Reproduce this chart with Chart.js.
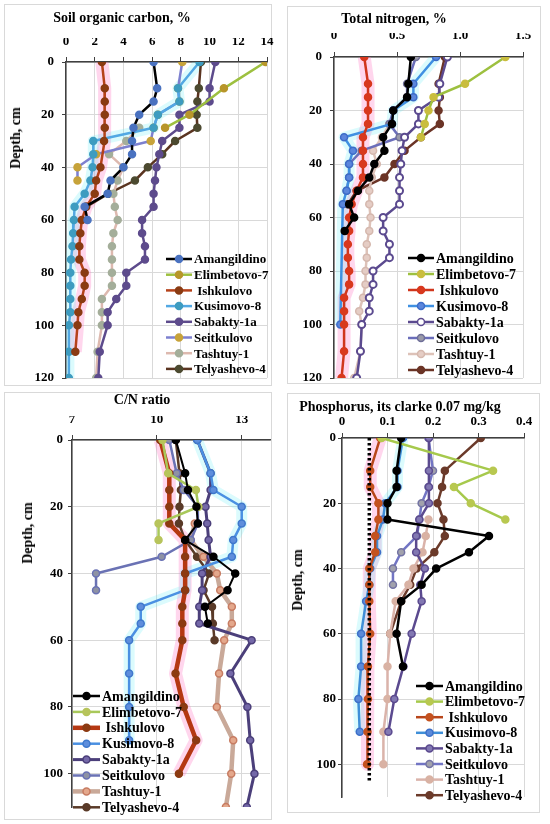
<!DOCTYPE html>
<html>
<head>
<meta charset="utf-8">
<script src="https://cdn.jsdelivr.net/npm/chart.js@4.4.0/dist/chart.umd.min.js"></script>
<style>
  html, body { margin: 0; padding: 0; background: #fff; }
  body { width: 550px; height: 824px; position: relative; overflow: hidden; font-family: "Liberation Serif", serif; }
  .box { position: absolute; border: 1px solid #d9d9d9; box-sizing: border-box; }
  canvas { position: absolute; }
  .ttl { position: absolute; font-weight: bold; font-size: 14px; white-space: nowrap; transform: translate(-50%, -50%); }
  .ytl { position: absolute; font-weight: bold; font-size: 14px; white-space: nowrap; transform: translate(-50%, -50%) rotate(-90deg); }
</style>
</head>
<body>
<script>
// Sites, in legend order
const sites = ['Amangildino', 'Elimbetovo-7', ' Ishkulovo', 'Kusimovo-8', 'Sabakty-1a', 'Seitkulovo', 'Tashtuy-1', 'Telyashevo-4'];

// Soil organic carbon, % (depths in cm, one list per site)
const socDepths = [
  [0, 10, 15, 20, 25, 30, 35, 40, 45, 50, 55, 60],
  [0, 10, 20, 25],
  [0, 10, 15, 20, 25, 30, 40, 45, 50, 55, 60, 65, 70, 75, 80, 85, 90, 95, 100, 110],
  [0, 10, 15, 20, 25, 30, 35, 40, 45, 50, 55, 60, 65, 70, 75, 80, 85, 90, 95, 100, 110, 120],
  [0, 10, 15, 20, 25, 30, 35, 40, 45, 50, 55, 60, 65, 70, 75, 80, 85, 90, 95, 100, 110, 120],
  [0, 10, 15, 20, 25, 30, 35, 40, 45],
  [25, 30, 35, 40, 45, 50, 55, 60, 65, 70, 75, 80, 85, 90, 95, 100, 110, 120],
  [0, 10, 15, 20, 25, 30, 35, 40, 45, 50, 55]
];
const socValues = [
  [6.1, 6.35, 6.1, 5.1, 4.7, 4.6, 4.6, 4.0, 3.1, 2.9, 1.3, 1.5],
  [13.9, 11.0, 8.6, 6.9],
  [2.5, 2.7, 2.7, 2.7, 2.7, 2.65, 2.4, 2.1, 2.0, 1.4, 1.1, 1.0, 0.93, 0.93, 1.3, 1.3, 1.1, 0.86, 0.8, 0.65],
  [9.3, 7.8, 7.9, 6.4, 6.1, 1.9, 1.9, 1.85, 1.7, 1.3, 0.6, 0.55, 0.5, 0.45, 0.35, 0.3, 0.3, 0.3, 0.3, 0.2, 0.2, 0.2],
  [10.4, 10.0, 10.0, 7.9, 7.9, 6.7, 6.5, 6.3, 6.2, 6.1, 6.1, 5.3, 5.3, 5.5, 5.5, 4.2, 4.2, 3.5, 2.9, 2.9, 2.35, 2.25],
  [8.1, 7.8, 7.9, 6.4, 6.1, 5.9, 2.1, 0.8, 0.8],
  [5.1, 4.2, 3.0, 4.0, 3.6, 3.3, 3.4, 3.6, 3.3, 3.2, 3.2, 3.2, 3.2, 2.5, 2.5, 2.5, 2.2, 2.1],
  [9.4, 9.25, 9.15, 9.1, 9.15, 7.6, 6.7, 5.7, 4.8, 2.95, 1.4]
];
const socTicks = [0, 2, 4, 6, 8, 10, 12, 14];
const socDepthTicks = [0, 20, 40, 60, 80, 100, 120];

// Total nitrogen, %
const nDepths = [
  [0, 10, 15, 20, 25, 30, 35, 40, 45, 50, 55, 60, 65],
  [0, 10, 15, 20, 25, 30],
  [0, 10, 15, 20, 25, 30, 35, 40, 45, 50, 55, 60, 65, 70, 75, 80, 85, 90, 95, 100, 110, 120],
  [0, 10, 15, 20, 25, 30, 35, 40, 45, 50, 55, 100],
  [0, 10, 15, 20, 25, 30, 35, 40, 45, 50, 55, 60, 65, 70, 75, 80, 85, 90, 95, 100, 110, 120],
  [0, 10, 15, 20, 25, 30, 35, 40, 45, 50],
  [25, 30, 35, 40, 45, 50, 55, 60, 65, 70, 75, 80, 85, 90, 95, 100, 110, 120],
  [0, 10, 15, 20, 25, 30, 35, 40, 45, 50, 55]
];
const nValues = [
  [0.61, 0.59, 0.58, 0.47, 0.46, 0.39, 0.4, 0.32, 0.28, 0.19, 0.12, 0.16, 0.085],
  [1.36, 1.04, 0.79, 0.75, 0.72, 0.69],
  [0.24, 0.27, 0.27, 0.27, 0.27, 0.23, 0.23, 0.23, 0.23, 0.18, 0.14, 0.12, 0.12, 0.11, 0.11, 0.12, 0.12, 0.08, 0.08, 0.08, 0.08, 0.06],
  [0.81, 0.63, 0.63, 0.47, 0.46, 0.08, 0.15, 0.12, 0.12, 0.1, 0.07, 0.05],
  [0.9, 0.84, 0.83, 0.67, 0.67, 0.56, 0.54, 0.53, 0.52, 0.52, 0.52, 0.39, 0.39, 0.44, 0.44, 0.31, 0.31, 0.28, 0.28, 0.22, 0.21, 0.18],
  [0.65, 0.58, 0.58, 0.47, 0.44, 0.52, 0.22, 0.12, 0.12, 0.1],
  [0.44, 0.38, 0.31, 0.34, 0.3, 0.28, 0.28, 0.29, 0.28, 0.26, 0.26, 0.25, 0.25, 0.23, 0.2, 0.22, 0.21, 0.16],
  [0.88, 0.83, 0.84, 0.83, 0.84, 0.69, 0.56, 0.48, 0.4, 0.18, 0.11]
];
const nTicks = [0, 0.5, 1, 1.5];
const nDepthTicks = [0, 20, 40, 60, 80, 100, 120];

// C/N ratio
const cnDepths = [
  [0, 10, 15, 20, 25, 30, 35, 40, 45, 50, 55],
  [0, 10, 15, 20, 25, 30],
  [0, 10, 15, 20, 25, 30, 35, 40, 45, 50, 55, 60, 70, 80, 90, 100],
  [0, 10, 15, 20, 25, 30, 35, 40, 45, 50, 55, 60, 70, 80, 90],
  [0, 10, 15, 20, 25, 30, 35, 40, 45, 50, 55, 60, 70, 80, 90, 100, 110],
  [0, 10, 15, 20, 25, 30, 35, 40, 45],
  [25, 30, 35, 40, 45, 50, 55, 60, 70, 80, 90, 100, 110],
  [0, 10, 15, 20, 25, 30, 35, 40, 45, 50, 55, 60]
];
const cnValues = [
  [10.67, 11.0, 11.1, 11.4, 11.45, 11.0, 12.0, 12.77, 12.5, 11.7, 11.8],
  [10.2, 10.4, 11.38, 11.47, 10.06, 10.06],
  [10.12, 10.44, 10.44, 10.44, 10.44, 11.0, 11.0, 11.0, 11.0, 10.9, 10.9, 10.9, 10.66, 10.95, 11.39, 10.78],
  [11.43, 11.9, 12.0, 13.0, 13.0, 12.7, 12.65, 11.0, 11.0, 9.43, 9.43, 9.02, 9.02, 9.02, 9.02],
  [11.43, 11.9, 11.9, 11.72, 11.78, 11.83, 11.9, 11.6, 11.6, 11.5, 11.5, 13.35, 12.6, 13.2, 13.3, 13.45, 13.18],
  [10.44, 10.7, 10.95, 11.45, 11.45, 11.2, 10.17, 7.85, 7.85],
  [11.34, 11.2, 11.65, 12.12, 12.24, 12.65, 12.65, 12.38, 12.2, 12.12, 12.7, 12.63, 12.44],
  [10.67, 10.8, 10.85, 10.8, 10.78, 11.0, 11.42, 11.85, 11.65, 11.95, 11.98, 12.04]
];
const cnTicks = [7, 10, 13];
const cnDepthTicks = [0, 20, 40, 60, 80, 100];

// Phosphorus, mg/kg
const pDepths = [
  [0, 10, 15, 20, 25, 30, 35, 40, 45, 50, 60, 70],
  [0, 10, 15, 20, 25],
  [0, 10, 15, 20, 25, 30, 35, 40, 45, 50, 60, 70, 80, 90, 100],
  [0, 10, 15, 20, 25, 30, 35, 40, 45, 50, 60, 70, 80, 90],
  [0, 10, 15, 20, 25, 30, 35, 40, 45, 50, 60, 70, 80, 90],
  [0, 10, 15, 20, 25, 30, 35, 40, 45],
  [25, 30, 35, 40, 45, 50, 60, 70, 80, 90, 100],
  [0, 10, 15, 20, 25, 30, 35, 40, 45, 50, 60]
];
const pValues = [
  [0.13, 0.12, 0.12, 0.1, 0.1, 0.323, 0.279, 0.207, 0.175, 0.13, 0.12, 0.134],
  [0.087, 0.332, 0.246, 0.283, 0.359],
  [0.084, 0.062, 0.062, 0.08, 0.08, 0.073, 0.073, 0.06, 0.06, 0.06, 0.062, 0.057, 0.057, 0.056, 0.055],
  [0.134, 0.122, 0.122, 0.095, 0.09, 0.077, 0.077, 0.062, 0.06, 0.053, 0.042, 0.042, 0.036, 0.039],
  [0.191, 0.191, 0.191, 0.191, 0.17, 0.163, 0.163, 0.182, 0.172, 0.175, 0.153, 0.135, 0.115, 0.102],
  [0.19, 0.2, 0.19, 0.175, 0.17, 0.165, 0.13, 0.112, 0.112],
  [0.19, 0.184, 0.177, 0.157, 0.146, 0.118, 0.106, 0.1, 0.1, 0.091, 0.091],
  [0.305, 0.226, 0.22, 0.21, 0.223, 0.226, 0.203, 0.164, 0.15, 0.13, 0.106]
];
const pTicks = [0, 0.1, 0.2, 0.3, 0.4];
const pDepthTicks = [0, 20, 40, 60, 80, 100];
const clarkeDepths = [0, 105];
const clarkeValues = [0.06, 0.06];

// panel layout and styles
const panels = [
  {
    key: 'soc', depths: socDepths, values: socValues, xTicks: socTicks, yTicks: socDepthTicks,
    xMin: 0, xMax: 14, yMax: 120,
    box: [4, 4, 268, 382], area: [66, 62, 267, 378], xPad: 8, yPad: 8,
    title: 'Soil organic carbon, %', titleAt: [122, 18], yTitleAt: [16, 138],
    legend: { x: 166, y: 259, step: 15.7, len: 26, size: 13 },
    line: ['#000000', '#9DC03F', '#B5421A', '#52A8E3', '#5D4B8C', '#7D80CF', '#DDB9AF', '#5A3420'],
    fill: ['#4A72C0', '#B8962A', '#8A3B12', '#3E9CC0', '#5D4B8C', '#C7A33A', '#A4AE9A', '#4C4A30'],
    border: ['#4A72C0', '#B8962A', '#8A3B12', '#3E9CC0', '#5D4B8C', '#C7A33A', '#A4AE9A', '#4C4A30'],
    width: [2.5, 2.5, 2.5, 2.5, 2.5, 2.5, 2.5, 2.5]
  },
  {
    key: 'n', depths: nDepths, values: nValues, xTicks: nTicks, yTicks: nDepthTicks,
    xMin: 0, xMax: 1.5, yMax: 120,
    box: [287, 6, 254, 378], area: [334, 57, 523, 378], xPad: 9, yPad: 8,
    title: 'Total nitrogen, %', titleAt: [394, 19], yTitleAt: null,
    legend: { x: 408, y: 258, step: 16, len: 26, size: 14 },
    line: ['#000000', '#9DC03F', '#D0361C', '#3F90E2', '#5B4A8F', '#6B6EBA', '#DDC2B8', '#6B3426'],
    fill: ['#000000', '#C9BD3E', '#D8381E', '#5B86DC', '#FFFFFF', '#9A9AA8', '#E5CDC5', '#6B3426'],
    border: ['#000000', '#C9BD3E', '#D8381E', '#3D6CC8', '#5B4A8F', '#6E6E98', '#D5B8AE', '#6B3426'],
    width: [2.5, 2.5, 2.5, 2.5, 2.5, 2.5, 2.5, 2.5]
  },
  {
    key: 'cn', depths: cnDepths, values: cnValues, xTicks: cnTicks, yTicks: cnDepthTicks,
    xMin: 7, xMax: 14, yMax: 110,
    box: [4, 392, 268, 428], area: [72, 440, 270, 807], xPad: 8, yPad: 5,
    title: 'C/N ratio', titleAt: [142, 400], yTitleAt: [28, 533],
    legend: { x: 73, y: 696, step: 15.9, len: 27, size: 14 },
    line: ['#000000', '#A8C85A', '#B53812', '#4A90E2', '#4B3F7A', '#6A72B4', '#C9A999', '#5A3A28'],
    fill: ['#000000', '#B7C45B', '#8C3A12', '#5E8EDC', '#7468A8', '#8E92A4', '#E4A88C', '#5A3A28'],
    border: ['#000000', '#B7C45B', '#8C3A12', '#3F78CC', '#4B3F7A', '#6A72B4', '#C77C62', '#5A3A28'],
    width: [2, 2.5, 4.5, 2.5, 3, 2.5, 4.5, 2.5]
  },
  {
    key: 'p', depths: pDepths, values: pValues, xTicks: pTicks, yTicks: pDepthTicks,
    xMin: 0, xMax: 0.4, yMax: 110,
    box: [287, 393, 253, 420], area: [342, 438, 524, 797], xPad: 4, yPad: 2,
    title: 'Phosphorus, its clarke 0.07 mg/kg', titleAt: [400, 407], yTitleAt: [298, 580],
    legend: { x: 416, y: 686, step: 15.6, len: 27, size: 14 },
    line: ['#000000', '#A6C94C', '#B8461B', '#3F8FD8', '#5B4A8F', '#7275C4', '#DAB3AA', '#6B3A2A'],
    fill: ['#000000', '#B8C850', '#C4521F', '#5B8ADA', '#8278B2', '#A2A2AC', '#D9B2A4', '#6B3A2A'],
    border: ['#000000', '#B8C850', '#C4521F', '#3D70C8', '#5B4A8F', '#7474A4', '#D9B2A4', '#6B3A2A'],
    width: [2.5, 2.5, 2.5, 2.5, 2.5, 2.5, 2.5, 2.5],
    clarke: true
  }
];

const Y_AXIS_W = 34;
const X_AXIS_H = 24;
const CANVAS_EXTRA = 8; // room on the right so the last tick label is not cut
const tickFont = { family: 'Liberation Serif', size: 13, weight: 'bold' };

const toPoints = (depths, values) => depths.map((d, j) => ({ x: values[j], y: d }));

// legend drawn inside the plot, like the original
const makeLegend = (p) => ({
  id: 'legend_' + p.key,
  afterDraw(chart) {
    const ctx = chart.ctx;
    const lg = p.legend;
    ctx.save();
    ctx.font = `bold ${lg.size}px "Liberation Serif"`;
    ctx.textBaseline = 'middle';
    sites.forEach((name, i) => {
      const x0 = lg.x - p.box[0];
      const y = lg.y - p.box[1] + i * lg.step;
      ctx.strokeStyle = p.line[i];
      ctx.lineWidth = Math.max(p.width[i], 2.5);
      ctx.beginPath();
      ctx.moveTo(x0, y);
      ctx.lineTo(x0 + lg.len, y);
      ctx.stroke();
      ctx.beginPath();
      ctx.arc(x0 + lg.len / 2, y, 3.5, 0, Math.PI * 2);
      ctx.fillStyle = p.fill[i];
      ctx.fill();
      ctx.lineWidth = 1.5;
      ctx.strokeStyle = p.border[i];
      ctx.stroke();
      ctx.fillStyle = '#000';
      ctx.fillText(name, x0 + lg.len + 2, y + 1);
    });
    ctx.restore();
  }
});

const addText = (cls, text, at) => {
  const el = document.createElement('div');
  el.className = cls;
  el.textContent = text;
  el.style.left = at[0] + 'px';
  el.style.top = at[1] + 'px';
  document.body.appendChild(el);
};

const renderPanel = (p) => {
  const [bx, by, bw, bh] = p.box;
  const [al, at, ar, ab] = p.area;
  const cw = bw + CANVAS_EXTRA;

  const frame = document.createElement('div');
  frame.className = 'box';
  frame.style.left = bx + 'px';
  frame.style.top = by + 'px';
  frame.style.width = bw + 'px';
  frame.style.height = bh + 'px';
  document.body.appendChild(frame);

  const canvas = document.createElement('canvas');
  canvas.width = cw;
  canvas.height = bh;
  canvas.style.left = bx + 'px';
  canvas.style.top = by + 'px';
  canvas.style.width = cw + 'px';
  canvas.style.height = bh + 'px';
  document.body.appendChild(canvas);

  const datasets = [];
  if (p.clarke) {
    datasets.push({
      data: toPoints(clarkeDepths, clarkeValues),
      showLine: true, borderColor: '#000', borderWidth: 3.5, borderDash: [2.5, 2.5],
      pointRadius: 0
    });
  }
  sites.forEach((name, i) => {
    const hollow = p.fill[i] === '#FFFFFF';
    datasets.push({
      label: name,
      data: toPoints(p.depths[i], p.values[i]),
      showLine: true,
      borderColor: p.line[i],
      borderWidth: p.width[i],
      pointRadius: 3.5,
      pointBackgroundColor: p.fill[i],
      pointBorderColor: p.border[i],
      pointBorderWidth: hollow ? 2 : 1.5
    });
  });
  // soft coloured halo behind Ishkulovo and Kusimovo-8 (drawn first = behind)
  datasets.push({
    data: toPoints(p.depths[3], p.values[3]),
    showLine: true, borderColor: 'rgba(90, 235, 245, 0.22)', borderWidth: 11, pointRadius: 0
  });
  datasets.push({
    data: toPoints(p.depths[2], p.values[2]),
    showLine: true, borderColor: 'rgba(255, 120, 195, 0.3)', borderWidth: 13, pointRadius: 0
  });

  new Chart(canvas, {
    type: 'scatter',
    data: { datasets },
    options: {
      responsive: false,
      animation: false,
      events: [],
      layout: {
        padding: {
          left: al - bx - Y_AXIS_W,
          top: at - by - X_AXIS_H,
          right: bx + cw - ar,
          bottom: by + bh - ab
        }
      },
      plugins: { legend: { display: false }, tooltip: { enabled: false } },
      elements: { line: { borderJoinStyle: 'round' } },
      scales: {
        x: {
          type: 'linear', position: 'top', min: p.xMin, max: p.xMax,
          afterBuildTicks: (s) => { s.ticks = p.xTicks.map((v) => ({ value: v })); },
          afterFit: (s) => { s.height = X_AXIS_H; s.paddingLeft = 0; s.paddingRight = 0; },
          grid: { color: '#d9d9d9', lineWidth: 1, tickLength: 5, tickColor: '#404040' },
          border: { color: '#404040', width: 1.5 },
          ticks: { font: tickFont, color: '#000', padding: p.xPad, maxRotation: 0, autoSkip: false }
        },
        y: {
          type: 'linear', reverse: true, min: 0, max: p.yMax,
          afterBuildTicks: (s) => { s.ticks = p.yTicks.map((v) => ({ value: v })); },
          afterFit: (s) => { s.width = Y_AXIS_W; s.paddingTop = 0; s.paddingBottom = 0; },
          grid: { color: '#d9d9d9', lineWidth: 1, tickLength: 4, tickColor: '#404040' },
          border: { color: '#404040', width: 1.5 },
          ticks: { font: tickFont, color: '#000', padding: p.yPad, autoSkip: false }
        }
      }
    },
    plugins: [makeLegend(p)]
  });

  addText('ttl', p.title, p.titleAt);
  if (p.yTitleAt) {
    addText('ytl', 'Depth, cm', p.yTitleAt);
  }
};

panels.forEach(renderPanel);
</script>
</body>
</html>
